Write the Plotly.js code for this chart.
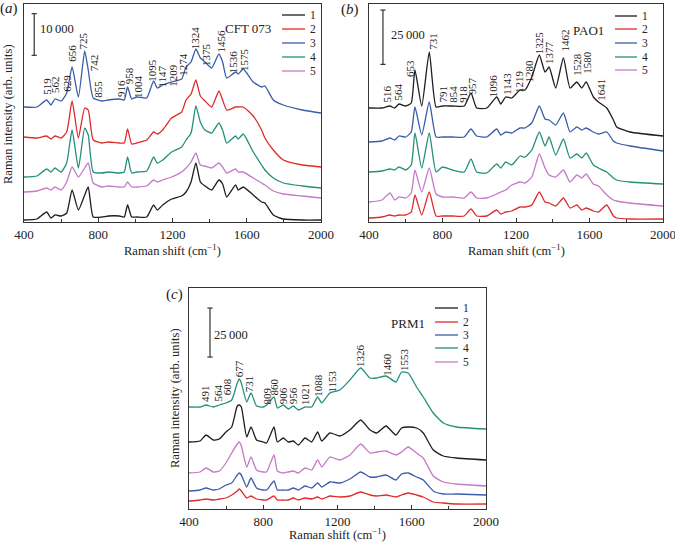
<!DOCTYPE html>
<html>
<head>
<meta charset="utf-8">
<script src="https://cdn.plot.ly/plotly-3.0.1.min.js"></script>
<style>html,body{margin:0;padding:0;background:#fff;}#chart{width:675px;height:543px;}</style>
</head>
<body>
<div id="chart"></div>
<script>
// ---------------- DATA ----------------
const seriesNames = ['1', '2', '3', '4', '5'];

// Panel (a) CFT 073
const shiftA = [400, 470, 522, 545, 567, 600, 630, 659, 693, 727, 746, 773, 820, 854, 913, 940, 958, 980, 1007, 1061, 1098, 1118, 1147, 1195, 1249, 1273, 1300, 1326, 1350, 1375, 1411, 1450, 1470, 1492, 1540, 1554, 1581, 1635, 1680, 1698, 1743, 1797, 1900, 2000];
const a1 = [480,720,2400,960,1680,1440,2160,7680,2880,6480,8400,1200,1200,1440,1440,1200,4080,1200,1200,1200,4080,2880,4080,5520,6240,7200,9600,14160,9600,8640,7680,10080,9120,6000,8880,7680,8400,6480,4800,4560,1680,720,480,480];
const a2 = [20400,20160,20640,19920,20640,20160,21600,29040,20160,27360,26880,19680,18960,19200,18960,18960,22320,18720,18960,19680,21600,21120,22080,24960,26400,29280,30720,34080,30240,29040,27600,31440,29280,26880,27600,27600,27600,25440,22080,20160,17280,14880,13680,13200];
const a3 = [27600,27600,29280,28080,29520,29040,30960,37200,30000,41040,36480,29760,29040,29280,29520,29280,32400,29520,30000,29760,33840,32160,32880,33600,34320,37200,38400,41520,39360,38400,36960,40320,38400,34560,36000,35520,36720,33600,32400,32640,29280,28080,26880,26160];
const a4 = [10800,11040,12720,12000,12960,12000,14160,22080,12960,22560,20880,12000,11760,12000,11760,12000,15600,11760,12000,12240,15600,14160,14880,16800,18000,19680,21360,27840,24000,22080,21360,23760,22080,18960,20640,19920,21120,16800,13680,12480,10560,9360,8640,8160];
const a5 = [7200,7440,8160,7680,8400,7680,9600,13200,10800,12960,14160,9360,8400,8640,8400,8400,9600,8400,8400,8640,10080,9600,10080,10800,12000,12960,14400,16560,13680,13440,12960,14160,13200,11760,12720,12000,12000,10560,9360,8880,7440,6720,6240,5760];
const peaksA = ['519','562','629','656','725','742','855','916','958','1004','1095','1147','1209','1274','1324','1375','1456','1536','1575'];

// Panel (b) PAO1
const shiftB = [400, 470, 514, 540, 563, 600, 630, 650, 687, 728, 765, 800, 854, 918, 955, 986, 1041, 1095, 1117, 1144, 1177, 1222, 1249, 1286, 1327, 1358, 1380, 1416, 1458, 1494, 1531, 1558, 1582, 1621, 1649, 1694, 1730, 1748, 1821, 2000];
const b1 = [52440,52440,53360,52440,54280,53360,54740,69920,53360,78200,52900,53360,53360,53360,59340,52440,52440,57500,54280,57500,57040,60720,60720,66700,76820,69000,71300,61640,75440,61640,64400,61640,64400,57500,55200,52440,46920,43700,41400,39560];
const b2 = [1840,2300,3220,2760,3220,3220,4600,12420,3220,13800,2760,2760,2760,2760,5980,2760,2760,5520,3680,4600,5060,6900,6900,7820,13800,9200,8740,7360,11040,6440,7820,5520,6440,5060,4600,7820,2760,1840,1380,1380];
const b3 = [36800,37260,38640,37720,39560,39100,41400,52900,40020,55200,39100,39100,39100,39100,42780,39560,39100,42780,40020,41400,40940,43240,43240,45540,53360,47380,46920,44620,50140,41400,43700,42320,43240,41400,40480,41400,37260,36340,34960,32660];
const b4 = [23000,23460,24380,23920,25300,23920,26220,40940,24840,40940,23000,25300,23920,23000,28980,23000,22540,26680,24840,27600,26220,30360,29900,33120,41400,34960,39100,30820,38180,29440,31280,29440,31740,26220,24840,23000,20240,19320,18400,17480];
const b5 = [9200,10120,13340,10120,11500,11040,13340,23920,13800,24840,12880,11500,11500,11040,13800,11040,11040,12880,13800,14720,17020,18400,17940,20700,31280,24840,21620,20700,23920,18400,21620,20240,22080,17480,16560,12420,10120,9660,8740,7360];
const peaksB = ['516','564','653','731','791','854','918','957','1096','1143','1219','1280','1325','1377','1462','1528','1580','1641'];

// Panel (c) PRM1
const shiftC = [400, 459, 492, 531, 563, 599, 630, 660, 671, 682, 711, 734, 764, 800, 818, 858, 876, 908, 935, 962, 989, 1025, 1061, 1093, 1115, 1159, 1213, 1267, 1325, 1375, 1411, 1461, 1515, 1545, 1581, 1626, 1662, 1716, 1770, 1842, 2000];
const c1 = [34170,34680,37740,35190,35700,39270,41820,52530,53040,52020,36720,41820,35190,34170,33660,41820,34170,36210,34170,34680,32640,36210,34170,39270,34680,38760,37230,40290,45390,40290,38760,42330,37740,41310,41820,41310,38760,30090,27030,26010,24990];
const c2 = [4080,4590,5100,4590,5100,5610,7140,9180,10200,9180,5610,6630,5100,4590,4590,6630,4590,4590,4590,5610,4590,5610,5100,6120,5100,6630,6120,6630,8670,7140,6630,7140,6120,7140,8160,7140,6120,3570,3060,2550,2550];
const c3 = [9180,9690,10710,9690,10200,12240,13260,17340,18360,17340,11220,15810,10710,9690,9690,14280,9690,9690,9690,10710,9690,11730,10710,13260,11220,13770,13260,15300,18870,16320,16320,17340,14790,17850,18360,16320,14790,9180,7650,7650,7140];
const c4 = [52020,52020,53040,52020,53040,54060,55590,64260,66300,64260,54570,59160,52530,52020,53040,57120,51510,53040,51000,52530,50490,52020,52020,57120,54060,59160,60690,65790,71910,66810,66810,67830,64770,69870,69360,62220,57120,48960,43860,41820,40800];
const c5 = [18360,18870,20910,18870,19380,23460,28560,33150,34170,32130,21420,26520,19890,18870,18870,27540,19380,18360,18870,19380,18360,20910,19890,24990,21420,26520,24990,27540,33150,28560,29070,29580,27540,29070,31620,28560,26010,16830,13770,12750,11730];
const peaksC = ['491','564','608','677','731','809','860','906','956','1021','1088','1153','1326','1460','1553'];

const scaleBars = [10000, 25000, 25000];
const strainNames = ['CFT 073', 'PAO1', 'PRM1'];
const xTicks = [400, 800, 1200, 1600, 2000];

// ---------------- LAYOUT HELPERS ----------------
const W = 675, H = 543;
const PX = x => x / W, PY = y => 1 - y / H;
const colors = ['#1e1e1e', '#e02a2a', '#3a5caa', '#25907a', '#c47ac6'];
const serif = 'Liberation Serif, Times New Roman, serif';

// label placement (layout, in axis units)
const peakPosA = {x:[522,567,630,657,720,778,797,922,967,1014,1088,1141,1201,1255,1323,1380,1459,1527,1585],
                  y:[32640,32880,33360,40560,43440,38160,31920,32160,35040,32640,36480,34800,35280,37920,44160,40320,43440,38400,39120]};
const peakPosB = {x:[500,560,624,747,805,856,910,963,1079,1150,1217,1273,1326,1380,1464,1531,1585,1661],
                  y:[58880,59800,70400,83260,58880,58880,58880,62560,62800,63500,64400,69460,82340,77740,83260,72680,73600,60720]};
const peakPosC = {x:[486,554,606,671,725,818,860,908,962,1025,1093,1168,1321,1465,1558],
                  y:[59160,59160,62220,71400,63750,57630,62220,57630,57630,58650,63240,64770,78540,73950,76500]};

const traces = [];
function addPanel(xs, ys, xa, ya) {
  ys.forEach((y, i) => {
    traces.push({x: xs, y: y, type: 'scatter', mode: 'lines', name: seriesNames[i],
      xaxis: xa, yaxis: ya, showlegend: false, hoverinfo: 'skip',
      line: {color: colors[i], width: 1.3, shape: 'spline', smoothing: 0.5}});
  });
}
addPanel(shiftA, [a1, a2, a3, a4, a5], 'x', 'y');
addPanel(shiftB, [b1, b2, b3, b4, b5], 'x2', 'y2');
addPanel(shiftC, [c1, c2, c3, c4, c5], 'x3', 'y3');

function xAxis(d, anchor) {
  return {domain: d, anchor: anchor, range: [400, 2000], tickvals: xTicks, ticktext: xTicks.map(String),
    ticks: 'inside', ticklen: 4, tickwidth: 1, tickcolor: '#333', ticklabeloverflow: 'allow',
    minor: {tickvals: [600, 1000, 1400, 1800], ticks: 'inside', ticklen: 3, tickcolor: '#333'},
    showline: true, mirror: true, linecolor: '#333', linewidth: 1, showgrid: false, zeroline: false,
    tickfont: {family: serif, size: 13, color: '#222'}, fixedrange: true};
}
function yAxis(d, anchor, top) {
  return {domain: d, anchor: anchor, range: [0, top], showticklabels: false, ticks: '',
    showline: true, mirror: true, linecolor: '#333', linewidth: 1, showgrid: false, zeroline: false, fixedrange: true};
}

const yDomAB = [PY(222), PY(4)];
const layout = {
  width: W, height: H, margin: {l: 0, r: 0, t: 0, b: 0},
  paper_bgcolor: '#fff', plot_bgcolor: '#fff', showlegend: false,
  xaxis: xAxis([PX(24), PX(321)], 'y'),
  yaxis: yAxis(yDomAB, 'x', 52320),
  xaxis2: xAxis([PX(369), PX(663)], 'y2'),
  yaxis2: yAxis(yDomAB, 'x2', 100280),
  xaxis3: xAxis([PX(189), PX(486)], 'y3'),
  yaxis3: yAxis([PY(509), PY(288)], 'x3', 112710),
  shapes: [], annotations: []
};

// scale bars
const bars = [{xr: 'x', yr: 'y', x: 455, y0: 40000}, {xr: 'x2', yr: 'y2', x: 476, y0: 72500}, {xr: 'x3', yr: 'y3', x: 513, y0: 77500}];
bars.forEach((b, i) => {
  const y1 = b.y0 + scaleBars[i];
  const ln = {color: '#333', width: 1.2};
  layout.shapes.push({type: 'line', xref: b.xr, yref: b.yr, x0: b.x, x1: b.x, y0: b.y0, y1: y1, line: ln});
  layout.shapes.push({type: 'line', xref: b.xr, yref: b.yr, x0: b.x - 14, x1: b.x + 14, y0: b.y0, y1: b.y0, line: ln});
  layout.shapes.push({type: 'line', xref: b.xr, yref: b.yr, x0: b.x - 14, x1: b.x + 14, y0: y1, y1: y1, line: ln});
});
const fmt = v => String(v).replace(/(\d)(?=(\d{3})+$)/g, '$1\u2009');
const scaleLbl = [[38, 29], [389, 35], [212, 335]];
scaleLbl.forEach((p, i) => layout.annotations.push({xref: 'paper', yref: 'paper', x: PX(p[0]), y: PY(p[1]),
  xanchor: 'left', yanchor: 'middle', showarrow: false, text: fmt(scaleBars[i]), font: {family: serif, size: 12.5, color: '#222'}}));

// strain names
const strainPos = [[248, 29], [588, 31], [408, 323]];
strainPos.forEach((p, i) => layout.annotations.push({xref: 'paper', yref: 'paper', x: PX(p[0]), y: PY(p[1]),
  xanchor: 'center', yanchor: 'middle', showarrow: false, text: strainNames[i], font: {family: serif, size: 13, color: '#222'}}));

// custom legends
const legends = [{rows: [15, 29, 43, 57, 71], x0: 282, x1: 305, tx: 309},
                 {rows: [16, 29, 43, 57, 70], x0: 615, x1: 637, tx: 641},
                 {rows: [308, 322, 335, 348, 362], x0: 435, x1: 458, tx: 462}];
legends.forEach(lg => {
  lg.rows.forEach((r, i) => {
    layout.shapes.push({type: 'line', xref: 'paper', yref: 'paper', x0: PX(lg.x0), x1: PX(lg.x1), y0: PY(r), y1: PY(r),
      line: {color: colors[i], width: 1.3}});
    layout.annotations.push({xref: 'paper', yref: 'paper', x: PX(lg.tx), y: PY(r), xanchor: 'left', yanchor: 'middle',
      showarrow: false, borderpad: 0, text: seriesNames[i], font: {family: serif, size: 11.5, color: '#222'}});
  });
});

// peak labels
function addPeaks(labels, pos, xr, yr) {
  labels.forEach((t, i) => layout.annotations.push({xref: xr, yref: yr, x: pos.x[i], y: pos.y[i], textangle: -90,
    xanchor: 'center', yanchor: 'middle', showarrow: false, borderpad: 0, text: t, font: {family: serif, size: 11, color: '#222'}}));
}
addPeaks(peaksA, peakPosA, 'x', 'y');
addPeaks(peaksB, peakPosB, 'x2', 'y2');
addPeaks(peaksC, peakPosC, 'x3', 'y3');

// axis titles and panel letters
const xt = 'Raman shift (cm<sup>\u22121</sup>)';
[[172, 250], [516, 250], [337, 534]].forEach(p => layout.annotations.push({xref: 'paper', yref: 'paper', x: PX(p[0]), y: PY(p[1]),
  xanchor: 'center', yanchor: 'middle', showarrow: false, borderpad: 0, text: xt, font: {family: serif, size: 12.5, color: '#222'}}));
[[8, 114], [175, 398]].forEach(p => layout.annotations.push({xref: 'paper', yref: 'paper', x: PX(p[0]), y: PY(p[1]),
  xanchor: 'center', yanchor: 'middle', textangle: -90, showarrow: false, text: 'Raman intensity (arb. units)',
  font: {family: serif, size: 12.5, color: '#222'}}));
[['a', 9, 9], ['b', 350, 10], ['c', 174, 295]].forEach(p => layout.annotations.push({xref: 'paper', yref: 'paper',
  x: PX(p[1]), y: PY(p[2]), xanchor: 'center', yanchor: 'middle', showarrow: false, borderpad: 0, text: '(<i>' + p[0] + '</i>)',
  font: {family: serif, size: 15, color: '#222'}}));

Plotly.newPlot('chart', traces, layout, {staticPlot: true, displayModeBar: false});
</script>
</body>
</html>
